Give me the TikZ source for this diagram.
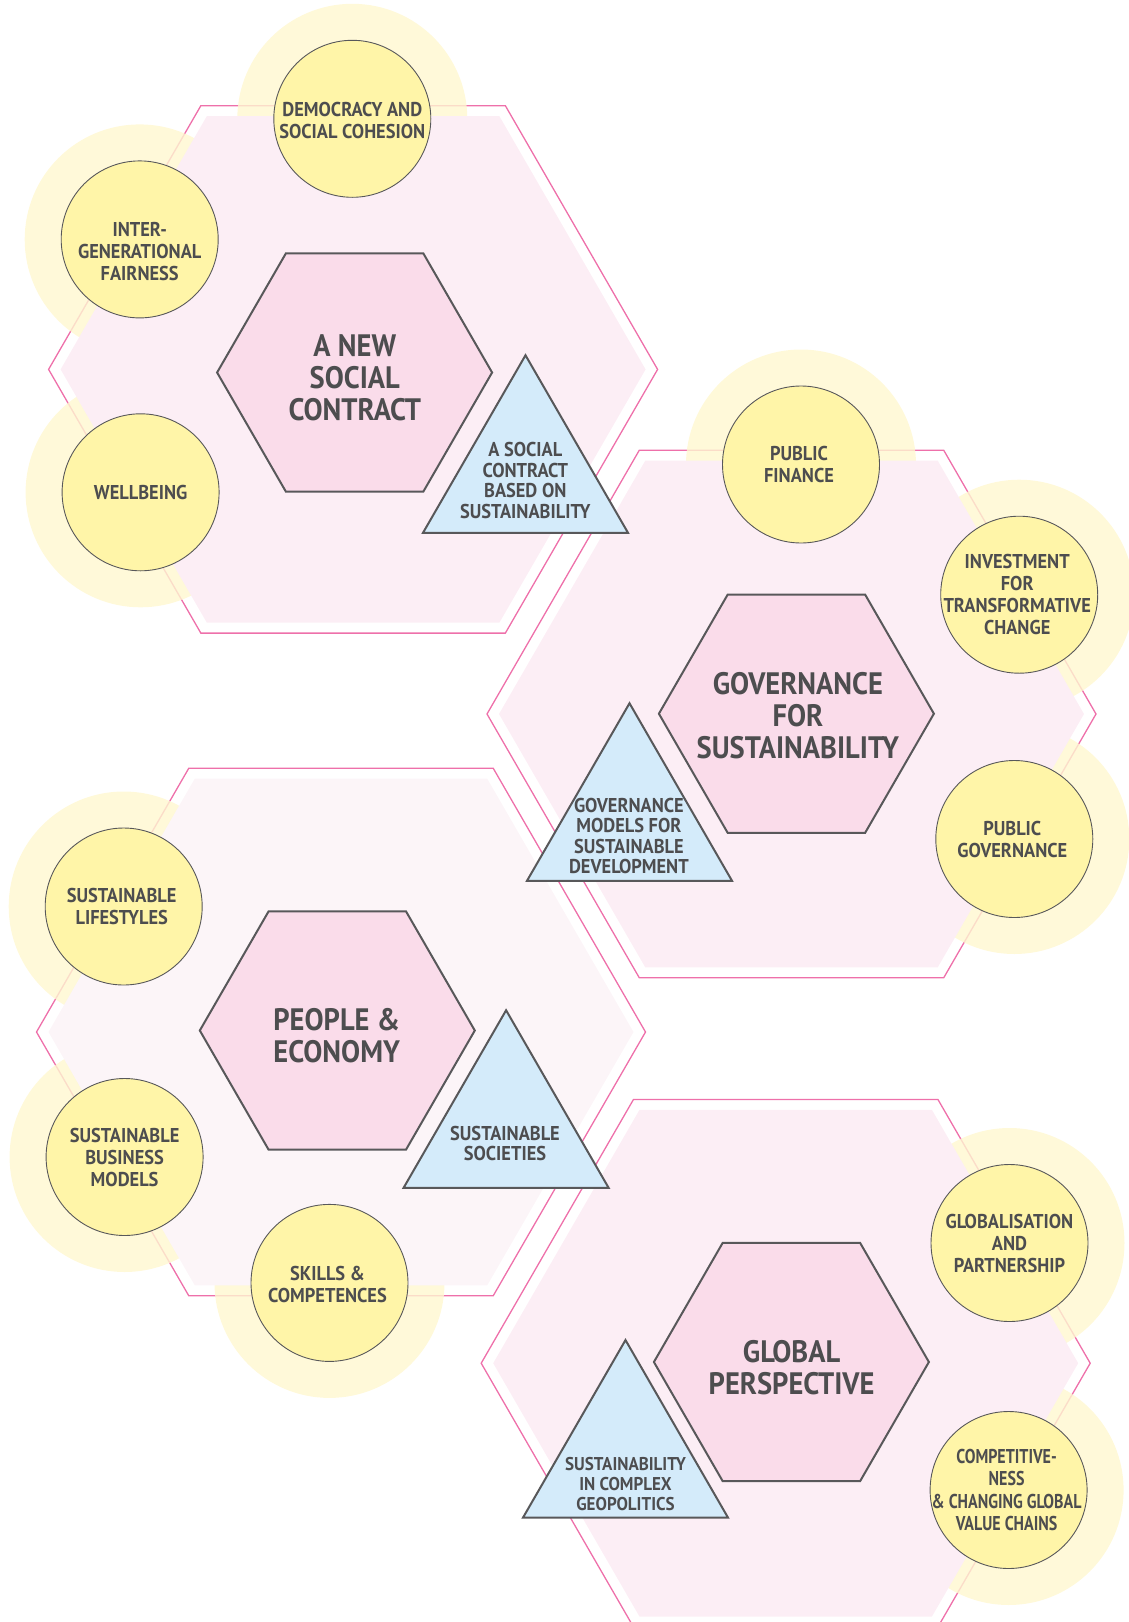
\documentclass[tikz,border=0pt]{standalone}
\usepackage{fontspec}
\setmainfont{PT Sans}[FakeStretch=0.92]
\newfontfamily\narrowfont{PT Sans}[FakeStretch=0.8]
\usetikzlibrary{shapes.geometric, positioning, calc}
\definecolor{ringpink}{RGB}{238,112,170}
\definecolor{fieldpink}{RGB}{252,238,245}
\definecolor{fieldpale}{RGB}{252,245,248}
\definecolor{corepink}{RGB}{250,220,234}
\definecolor{topicyellow}{RGB}{255,245,168}
\definecolor{glowyellow}{RGB}{255,247,208}
\definecolor{bridgeblue}{RGB}{212,235,250}
\definecolor{edgegray}{RGB}{88,88,90}
\definecolor{inkgray}{RGB}{77,77,79}

\begin{document}
\begin{tikzpicture}[
    x=1pt, y=-1pt,
    ring/.style={regular polygon, regular polygon sides=6, minimum size=609pt, inner sep=0pt,
                 draw=ringpink, line width=1.3pt},
    field/.style={regular polygon, regular polygon sides=6, minimum size=585pt, inner sep=0pt, fill=#1},
    field/.default=fieldpink,
    core/.style={regular polygon, regular polygon sides=6, minimum size=275pt, inner sep=0pt,
                 draw=edgegray, line width=2pt, fill=corepink},
    glow/.style={circle, minimum size=230pt, inner sep=0pt, fill=glowyellow, fill opacity=.8},
    topic/.style={circle, minimum size=157pt, inner sep=0pt, draw=edgegray, line width=.9pt, fill=topicyellow},
    bridge/.style={regular polygon, regular polygon sides=3, minimum size=236.7pt, inner sep=0pt,
                   draw=edgegray, line width=2pt, fill=bridgeblue},
    coretext/.style={align=center, text=inkgray, font=\bfseries\fontsize{31}{32}\selectfont},
    topictext/.style={align=center, text=inkgray, font=\bfseries\fontsize{20}{22}\selectfont},
    bridgetext/.style={align=center, text=inkgray, font=\bfseries\fontsize{20}{20.5}\selectfont}
]
    \useasboundingbox (0,0) rectangle (1129,1622);

    % outer pink outlines
    \node[ring] (r1) at (353.1,369.4) {};
    \node[ring] (r2) at (791.5,714) {};
    \node[ring] (r3) at (341,1032) {};
    \node[ring] (r4) at (785.7,1363.2) {};

    % halos round the topics
    \node[glow] (demo-g) at (352.3,118.8) {};
    \node[glow] (fair-g) at (139.7,239.4) {};
    \node[glow] (well-g) at (140.6,492.3) {};
    \node[glow] (fin-g) at (801,464.5) {};
    \node[glow] (inv-g) at (1019.2,594.7) {};
    \node[glow] (gov-g) at (1014.3,839) {};
    \node[glow] (life-g) at (123.7,906.5) {};
    \node[glow] (biz-g) at (124.6,1157) {};
    \node[glow] (skill-g) at (329.5,1282.9) {};
    \node[glow] (glob-g) at (1009.5,1243) {};
    \node[glow] (comp-g) at (1008.6,1490) {};

    % inner fields
    \node[field] (f1) at (r1) {};
    \node[field] (f2) at (r2) {};
    \node[field=fieldpale] (f3) at (r3) {};
    \node[field] (f4) at (r4) {};

    % central hexagons
    \node[core] (c1) at (354.6,372.5) {};
    \node[coretext] (c1-t) at (354.8,377.5) {A NEW\\SOCIAL\\CONTRACT};
    \node[core] (c2) at (796.4,713.7) {};
    \node[coretext] (c2-t) at (797.9,716) {GOVERNANCE\\FOR\\SUSTAINABILITY};
    \node[core] (c3) at (337.3,1030.5) {};
    \node[coretext] (c3-t) at (336.7,1036) {PEOPLE \&\\ECONOMY};
    \node[core] (c4) at (791.4,1362) {};
    \node[coretext] (c4-t) at (791.6,1368) {GLOBAL\\PERSPECTIVE};

    % topics
    \node[topic] (demo) at (demo-g) {};
    \node[topictext] (demo-t) at ([yshift=-2pt]demo.center) {DEMOCRACY AND\\SOCIAL COHESION};
    \node[topic] (fair) at (fair-g) {};
    \node[topictext] (fair-t) at ([yshift=-12pt]fair.center) {INTER-\\GENERATIONAL\\FAIRNESS};
    \node[topic] (well) at (well-g) {};
    \node[topictext] (well-t) at (well) {WELLBEING};
    \node[topic] (fin) at (fin-g) {};
    \node[topictext] (fin-t) at ([xshift=-2pt]fin.center) {PUBLIC\\FINANCE};
    \node[topic] (inv) at (inv-g) {};
    \node[topictext] (inv-t) at ([xshift=-2pt]inv.center) {INVESTMENT\\FOR\\TRANSFORMATIVE\\CHANGE};
    \node[topic] (gov) at (gov-g) {};
    \node[topictext] (gov-t) at ([xshift=-2pt]gov.center) {PUBLIC\\GOVERNANCE};
    \node[topic] (life) at (life-g) {};
    \node[topictext] (life-t) at ([xshift=-2pt]life.center) {SUSTAINABLE\\LIFESTYLES};
    \node[topic] (biz) at (biz-g) {};
    \node[topictext] (biz-t) at (biz) {SUSTAINABLE\\BUSINESS\\MODELS};
    \node[topic] (skill) at (skill-g) {};
    \node[topictext] (skill-t) at ([xshift=-2pt,yshift=-2pt]skill.center) {SKILLS \&\\COMPETENCES};
    \node[topic] (glob) at (glob-g) {};
    \node[topictext] (glob-t) at (glob) {GLOBALISATION\\AND\\PARTNERSHIP};
    \node[topic] (comp) at (comp-g) {};
    \node[topictext, font=\narrowfont\bfseries\fontsize{20}{22.6}\selectfont] (comp-t) at ([xshift=-2pt]comp.center)
        {COMPETITIVE-\\NESS\\\&~CHANGING GLOBAL\\VALUE CHAINS};

    % triangles between the fields
    \node[bridge] (b1) at (525.5,473.6) {};
    \node[bridgetext] (b1-t) at (525.3,480.5) {A SOCIAL\\CONTRACT\\BASED ON\\SUSTAINABILITY};
    \node[bridge] (b2) at (629.5,821.6) {};
    \node[bridgetext] (b2-t) at (628.9,836) {GOVERNANCE\\MODELS FOR\\SUSTAINABLE\\DEVELOPMENT};
    \node[bridge] (b3) at (506.1,1128.6) {};
    \node[bridgetext] (b3-t) at (505,1143.7) {SUSTAINABLE\\SOCIETIES};
    \node[bridge] (b4) at (625.5,1458.4) {};
    \node[bridgetext, font=\bfseries\fontsize{18.5}{20}\selectfont] (b4-t) at (625.5,1484)
        {SUSTAINABILITY\\IN COMPLEX\\GEOPOLITICS};
\end{tikzpicture}
\end{document}
